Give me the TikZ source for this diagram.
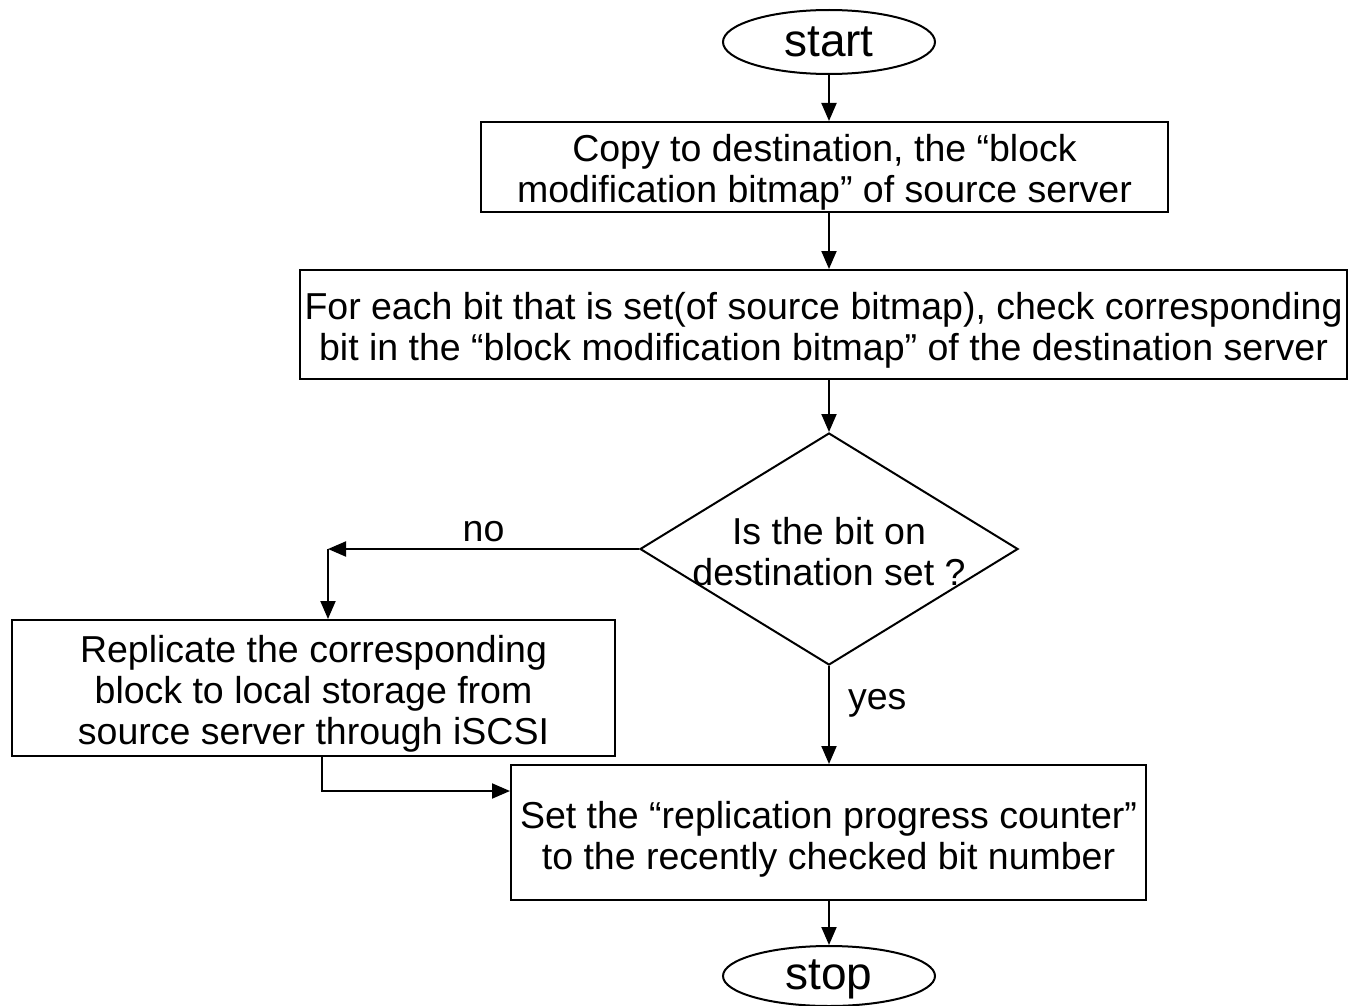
\documentclass[tikz,border=0pt]{standalone}
\usepackage{fontspec}
\setmainfont{Liberation Sans}
\usetikzlibrary{arrows.meta,shapes.geometric}
\tikzset{
  shapeonly/.style={draw, line width=2pt, inner sep=0pt},
  caption/.style={align=center, inner sep=0pt, font=\fontsize{37.5}{41}\selectfont},
  term/.style={inner sep=0pt, font=\fontsize{46}{50}\selectfont},
  arr/.style={line width=2pt, -{Triangle[length=18pt,width=15pt]}},
}
\begin{document}
\begin{tikzpicture}[x=1pt,y=-1pt]
\useasboundingbox[fill=white] (0,0) rectangle (1349,1006);

% terminals
\node[shapeonly, ellipse, minimum width=212pt, minimum height=64pt] (start) at (829,42) {};
\node[term] at (start.center) {start};
\node[shapeonly, ellipse, minimum width=212pt, minimum height=60pt] (stop) at (829,976) {};
\node[term] at ([yshift=-3pt]stop.center) {stop};

% process boxes
\node[shapeonly, minimum width=687pt, minimum height=90pt] (copy) at (824.5,167) {};
\node[caption] at ([yshift=-5pt]copy.center)
  {Copy to destination, the “block\\modification bitmap” of source server};
\node[shapeonly, minimum width=1047pt, minimum height=109pt] (check) at (823.5,324.5) {};
\node[caption] at ([yshift=-6pt]check.center)
  {For each bit that is set(of source bitmap), check corresponding\\bit in the “block modification bitmap” of the destination server};
\node[shapeonly, minimum width=603pt, minimum height=136pt] (repl) at (313.5,688) {};
\node[caption] at ([yshift=-6pt]repl.center)
  {Replicate the corresponding\\block to local storage from\\source server through iSCSI};
\node[shapeonly, minimum width=635pt, minimum height=135pt] (setc) at (828.5,832.5) {};
\node[caption] at ([yshift=-7pt]setc.center)
  {Set the “replication progress counter”\\to the recently checked bit number};

% decision
\node[shapeonly, diamond, minimum width=378pt, minimum height=232pt] (dec) at (829,549) {};
\node[caption] at (829,552) {Is the bit on\\destination set ?};

% connectors
\draw[arr] (start.south) -- (start.south |- copy.north);
\draw[arr] (start.south |- copy.south) -- (start.south |- check.north);
\draw[arr] (dec.north |- check.south) -- (dec.north);
\draw[arr] (dec.south) -- node[caption, right=18pt, pos=0.38] {yes} (dec.south |- setc.north);
\draw[arr] (stop.north |- setc.south) -- (stop.north);

\coordinate (noturn) at (dec.west -| 328,0);
\draw[arr] (dec.west) -- node[caption, above=6pt, pos=0.5] {no} (noturn);
\draw[arr] (noturn) -- (noturn |- repl.north);

\coordinate (back) at (322,791);
\draw[arr] (repl.south -| back) -- (back) -- (back -| setc.west);
\end{tikzpicture}
\end{document}
